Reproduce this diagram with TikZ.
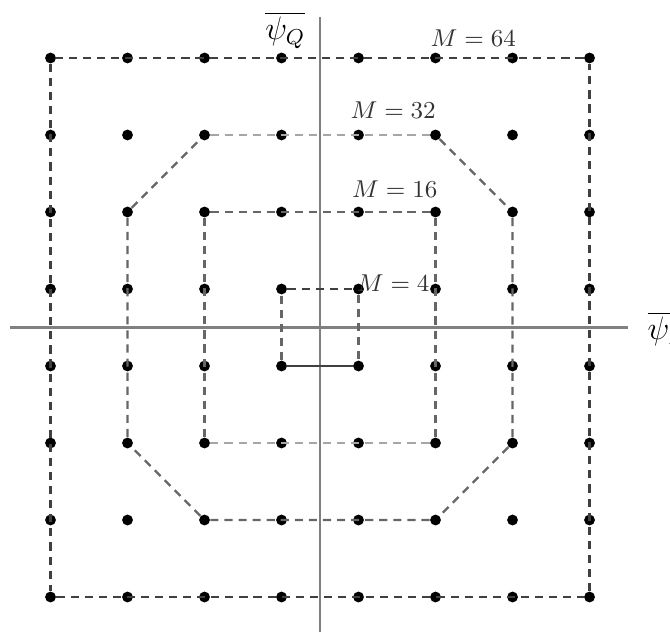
\documentclass[tikz,border=0pt]{standalone}
\usepackage{tikz}
\tikzset{
  pt/.style    = {circle, fill=black, minimum size=4pt, inner sep=0},
  axe/.style   = {draw=black!50, line width=0.8pt},
  dk/.style    = {draw=black!75, line width=0.85pt, dash pattern=on 3pt off 2.2pt},
  md/.style    = {draw=black!60, line width=0.85pt, dash pattern=on 3pt off 2.2pt},
  lt/.style    = {draw=black!35, line width=0.85pt, dash pattern=on 3pt off 2.2pt},
  et/.style    = {font=\small, text=black!80},
  ax/.style    = {font=\large}
}
\begin{document}
\begin{tikzpicture}
  \useasboundingbox (-4.156,-3.955) rectangle (4.545,4.253);
  % axes
  \coordinate (xl) at (-4.03,0); \coordinate (xr) at (4.0,0);
  \coordinate (yb) at (0,-3.955); \coordinate (yt) at (0,4.03);
  \draw[axe] (xl)--(xr);
  \draw[axe] (yb)--(yt);
  % points
  \foreach \i in {0,...,7}
    \foreach \j in {0,...,7}
      \node[pt] (p\i\j) at (\i-3.5,\j-3.5) {};
  % M = 64
  \path[dk] (p00)--(p70)--(p77)--(p07)--(p00);
  % M = 32
  \path[lt] (p26)--(p56);
  \path[md] (p56)--(p65)--(p62)--(p51)--(p21)--(p12)--(p15)--(p26);
  % M = 16
  \path[md] (p22)--(p25)--(p55)--(p52);
  \path[lt] (p52)--(p22);
  % M = 4
  \path[dk] (p34)--(p44);
  \path[md] (p44)--(p43);
  \path[draw=black!75, line width=0.85pt] (p43)--(p33);
  \path[md] (p33)--(p34);
  % labels
  \node[et] (m64) at (1.99,3.76) {$M = 64$};
  \node[et] (m32) at (0.95,2.82) {$M = 32$};
  \node[et] (m16) at (0.97,1.79) {$M = 16$};
  \node[et] (m4)  at (0.95,0.58) {$M = 4$};
  \node[ax] (psq) at (-0.45,3.86) {$\overline{\psi_Q}$};
  \node[ax,anchor=west] (psi) at (4.13,-0.02) {$\overline{\psi_I}$};
\end{tikzpicture}
\end{document}
